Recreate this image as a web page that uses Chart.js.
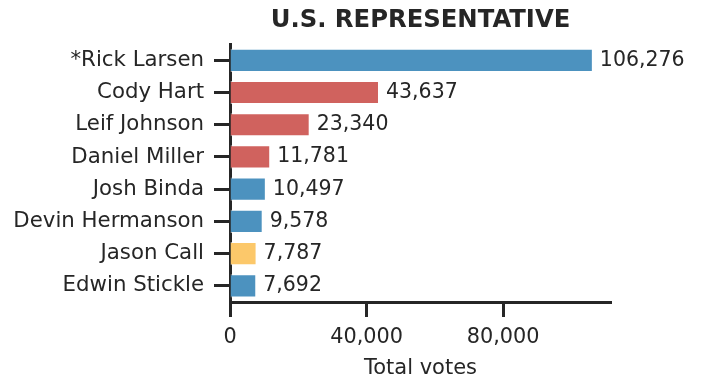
<!DOCTYPE html>
<html>
<head>
<meta charset="utf-8">
<script src="https://cdn.jsdelivr.net/npm/chart.js@4"></script>
<style>
  html, body { margin: 0; padding: 0; background: #fff; }
  #wrap { width: 702px; height: 381px; }
</style>
</head>
<body>
<div id="wrap"><canvas id="chart" width="702" height="381"></canvas></div>
<script>
const candidates = ['*Rick Larsen', 'Cody Hart', 'Leif Johnson', 'Daniel Miller', 'Josh Binda', 'Devin Hermanson', 'Jason Call', 'Edwin Stickle'];
const votes = [106276, 43637, 23340, 11781, 10497, 9578, 7787, 7692];
const parties = ['D', 'R', 'R', 'R', 'D', 'D', 'O', 'D'];
const xTicks = [0, 40000, 80000];

const partyColors = { D: '#4c92bf', R: '#d0625e', O: '#fcc86a' };
const ink = '#262626';
const fontFamily = '"DejaVu Sans", sans-serif';

// value labels at the end of each bar
const valueLabels = {
    id: 'valueLabels',
    afterDatasetsDraw(chart) {
        const c = chart.ctx;
        const meta = chart.getDatasetMeta(0);
        c.save();
        c.font = '20.5px ' + fontFamily;
        c.fillStyle = ink;
        c.textBaseline = 'middle';
        c.textAlign = 'left';
        meta.data.forEach((bar, i) => {
            c.fillText(votes[i].toLocaleString('en-US'), bar.x + 7, bar.y);
        });
        c.restore();
    }
};

new Chart(document.getElementById('chart').getContext('2d'), {
    type: 'bar',
    data: {
        labels: candidates,
        datasets: [{
            data: votes,
            backgroundColor: parties.map(p => partyColors[p]),
            borderColor: 'rgba(255,255,255,0.6)',
            borderWidth: 1,
            barPercentage: 0.72,
            categoryPercentage: 1
        }]
    },
    options: {
        indexAxis: 'y',
        responsive: false,
        animation: false,
        layout: { padding: { left: 0, right: 91, top: 0, bottom: 0 } },
        plugins: {
            legend: { display: false },
            tooltip: { enabled: false },
            title: {
                display: true,
                text: 'U.S. REPRESENTATIVE',
                fullSize: false,
                color: ink,
                font: { family: fontFamily, size: 24.3, weight: 'bold' },
                padding: { top: 6, bottom: 9 }
            }
        },
        scales: {
            x: {
                min: 0,
                max: 111590,
                border: { display: true, width: 3, color: ink },
                grid: { display: true, drawOnChartArea: false, tickLength: 15, tickWidth: 3, tickColor: ink },
                afterBuildTicks: scale => { scale.ticks = xTicks.map(v => ({ value: v })); },
                ticks: {
                    color: ink,
                    padding: 8,
                    maxRotation: 0,
                    font: { family: fontFamily, size: 20.8 },
                    callback: v => v.toLocaleString('en-US')
                },
                title: {
                    display: true,
                    text: 'Total votes',
                    color: ink,
                    font: { family: fontFamily, size: 21 },
                    padding: { top: 2, bottom: 0 }
                },
                afterFit: scale => { scale.height = 79; }
            },
            y: {
                border: { display: true, width: 3, color: ink },
                grid: { display: true, drawOnChartArea: false, offset: false, tickLength: 16, tickWidth: 3, tickColor: ink },
                ticks: {
                    color: ink,
                    padding: 10,
                    font: { family: fontFamily, size: 21.3 }
                },
                afterFit: scale => { scale.width = 230; }
            }
        }
    },
    plugins: [valueLabels]
});
</script>
</body>
</html>
